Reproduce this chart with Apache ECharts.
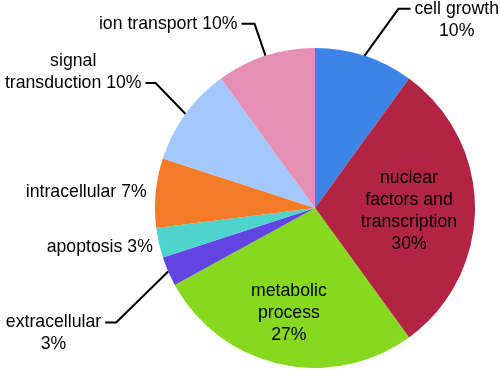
<!DOCTYPE html>
<html>
<head>
<meta charset="utf-8">
<script src="https://cdn.jsdelivr.net/npm/echarts@6/dist/echarts.min.js"></script>
<style>
    html, body { margin: 0; padding: 0; background: #fff; }
    #chart { width: 500px; height: 370px; }
</style>
</head>
<body>
<div id="chart"></div>
<script>
// data, clockwise from 12 o'clock
var categories = ['cell growth', 'nuclear factors and transcription', 'metabolic process',
    'extracellular', 'apoptosis', 'intracellular', 'signal transduction', 'ion transport'];
var shares = [10, 30, 27, 3, 3, 7, 10, 10];
// label text as printed (line breaks included), value is appended
var labelNames = ['cell growth\n', 'nuclear\nfactors and\ntranscription\n', 'metabolic\nprocess\n',
    'extracellular\n', 'apoptosis ', 'intracellular ', 'signal\ntransduction ', 'ion transport '];
var colors = ['#3c84e8', '#b32444', '#86d91f', '#6244e2', '#4ed4ce', '#f47b28', '#a4c8fd', '#e58fb5'];

(function () {
    let chart = echarts.init(document.querySelector('#chart'));

    var inside = { 1: [11, 3], 2: [-8, 24] };   // dx, dy for labels drawn on the slice
    // leader line shape: bend offset from slice edge, horizontal run, text y shift
    var spots = {
        0: { bend: [34, -47], run: 12, dy: 11 },
        3: { bend: [-52, 51], run: -11, dy: 11 },
        4: { bend: [-1, 4], run: -1, dy: 0, hide: true },
        5: { bend: [-2, -1], run: -3, dy: 0, hide: true },
        6: { bend: [-30, -31], run: -10, dy: -11 },
        7: { bend: [-11, -32], run: -13, dy: 0 }
    };

    var data = categories.map(function (name, i) {
        var item = { name: name, value: shares[i], itemStyle: { color: colors[i] } };
        if (inside[i]) {
            item.label = { position: 'inside' };
        }
        if (spots[i] && spots[i].hide) {
            item.labelLine = { lineStyle: { opacity: 0 } };
        }
        return item;
    });

    let option = {
        animation: false,
        series: [{
            type: 'pie',
            center: [315, 208],
            radius: 160,
            startAngle: 90,
            clockwise: true,
            avoidLabelOverlap: false,
            itemStyle: { borderWidth: 0 },
            label: {
                show: true,
                position: 'outside',
                color: '#000',
                fontFamily: 'Liberation Sans, Arial, sans-serif',
                fontSize: 17.7,
                lineHeight: 22,
                formatter: function (p) {
                    return labelNames[p.dataIndex] + p.value + '%';
                }
            },
            labelLine: {
                show: true,
                length: 30,
                length2: 10,
                lineStyle: { color: '#000', width: 2 }
            },
            labelLayout: function (p) {
                var i = p.dataIndex;
                if (inside[i]) {
                    return { dx: inside[i][0], dy: inside[i][1] };
                }
                var s = spots[i];
                if (!s || !p.labelLinePoints) return {};
                var e = p.labelLinePoints[0];
                var bend = [e[0] + s.bend[0], e[1] + s.bend[1]];
                var end = [bend[0] + s.run, bend[1]];
                var dir = s.run > 0 ? 1 : -1;
                return {
                    x: end[0] + dir * (p.labelRect.width / 2 + 4),
                    y: end[1] + s.dy,
                    align: 'center',
                    verticalAlign: 'middle',
                    labelLinePoints: [e, bend, end]
                };
            },
            data: data
        }]
    };
    chart.setOption(option);
})();
</script>
</body>
</html>
